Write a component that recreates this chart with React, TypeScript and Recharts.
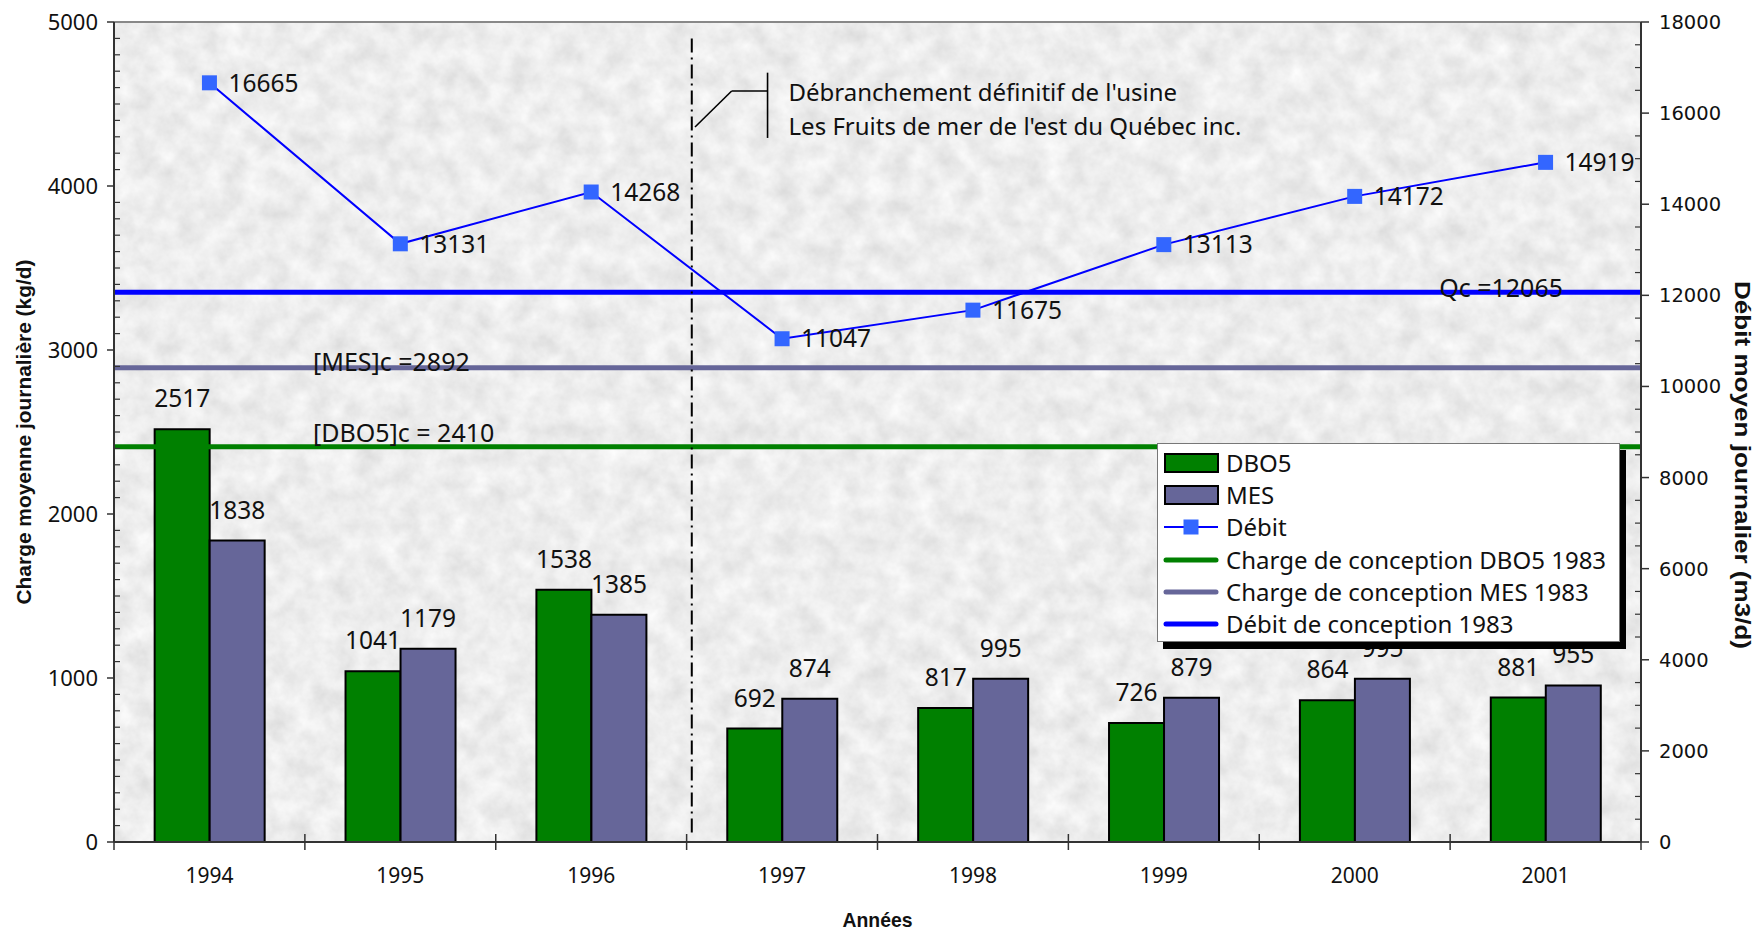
import React from 'react';
import {
  ComposedChart,
  Bar,
  Line,
  XAxis,
  YAxis,
  CartesianGrid,
  ReferenceLine,
  ReferenceDot,
  LabelList,
  Legend,
} from 'recharts';

// ---- Data -------------------------------------------------------------
const years = ['1994', '1995', '1996', '1997', '1998', '1999', '2000', '2001'];
const dbo5 = [2517, 1041, 1538, 692, 817, 726, 864, 881];
const mes = [1838, 1179, 1385, 874, 995, 879, 995, 955];
const debit = [16665, 13131, 14268, 11047, 11675, 13113, 14172, 14919];

// 1983 design values
const dbo5Design = 2410;
const mesDesign = 2892;
const debitDesign = 12065;

// Axis ticks (minor + major)
const leftTicks = Array.from({ length: 51 }, (_, i) => i * 100);
const rightTicks = Array.from({ length: 37 }, (_, i) => i * 500);

// Plant disconnection marker (x in year units, y on the load axis)
const disconnectX = 3.027;
const disconnectSpan = [4900, 50];
const calloutPoints = [
  { x: 3.044, y: 4360 },
  { x: 3.236, y: 4579 },
  { x: 3.424, y: 4579 },
];
const bracketSpan = [4691, 4293];
const noteLines = [
  { text: "Débranchement définitif de l'usine", y: 4573 },
  { text: "Les Fruits de mer de l'est du Québec inc.", y: 4366 },
];

// pos = centre of each year slot on a continuous 0..8 scale
const data = years.map((year, i) => ({ year, pos: i + 0.5, dbo5: dbo5[i], mes: mes[i], debit: debit[i] }));

// ---- Styles -----------------------------------------------------------
const GREEN = '#008000';
const PURPLE = '#666699';
const BLUE = '#0000ff';
const MARKER = '#3366ff';
const AXIS = '#333333';
const FONT = "'Noto Sans', 'Open Sans', sans-serif";
const WIDE_FONT = "'DejaVu Sans', sans-serif";
const TITLE_FONT = "'Liberation Sans', Arial, sans-serif";

const LeftTick = (props: any) => {
  const { x, y, payload } = props;
  const v = payload.value;
  if (v % 1000 === 0) {
    return (
      <g>
        <line x1={x - 7} x2={x} y1={y} y2={y} stroke={AXIS} strokeWidth={1.5} />
        <text x={x - 16} y={y} dy="0.36em" textAnchor="end" fontSize={22} fontFamily={FONT} fill="#111">
          {v}
        </text>
      </g>
    );
  }
  return <line x1={x} x2={x + 6} y1={y} y2={y} stroke={AXIS} strokeWidth={1.2} />;
};

const RightTick = (props: any) => {
  const { x, y, payload } = props;
  const v = payload.value;
  if (v % 2000 === 0) {
    return (
      <g>
        <line x1={x} x2={x + 8} y1={y} y2={y} stroke={AXIS} strokeWidth={1.5} />
        <text x={x + 18} y={y} dy="0.36em" textAnchor="start" fontSize={19.5} fontFamily={WIDE_FONT} fill="#111">
          {v}
        </text>
      </g>
    );
  }
  return <line x1={x - 6} x2={x} y1={y} y2={y} stroke={AXIS} strokeWidth={1.2} />;
};

// Year label at the slot centre, with tick marks on the slot boundaries
const BottomTick = (props: any) => {
  const { x, y, payload, index, visibleTicksCount } = props;
  const half = payload && payload.offset ? payload.offset : 0;
  const last = index === visibleTicksCount - 1;
  return (
    <g>
      <line x1={x - half} x2={x - half} y1={y - 8} y2={y + 8} stroke={AXIS} strokeWidth={1.5} />
      {last && <line x1={x + half} x2={x + half} y1={y - 8} y2={y + 8} stroke={AXIS} strokeWidth={1.5} />}
      <text x={x} y={y + 41} textAnchor="middle" fontSize={21} fontFamily={FONT} fill="#111">
        {payload.value}
      </text>
    </g>
  );
};

const SquareDot = (props: any) => {
  const { cx, cy } = props;
  if (cx == null || cy == null) return null;
  return <rect x={cx - 7.5} y={cy - 7.5} width={15} height={15} fill={MARKER} />;
};

const lineLabel = (text: string, dx: number, dy: number, anchor: 'start' | 'end') => (props: any) => {
  const vb = props.viewBox || {};
  const x = anchor === 'start' ? vb.x + dx : vb.x + vb.width - dx;
  return (
    <text x={x} y={vb.y + dy} textAnchor={anchor} fontSize={25} fontFamily={FONT} fill="#111">
      {text}
    </text>
  );
};

const noteLabel = (text: string) => (props: any) => {
  const vb = props.viewBox || {};
  return (
    <text x={vb.x + 21} y={vb.y} dy="0.36em" textAnchor="start" fontSize={24} fontFamily={FONT} fill="#111">
      {text}
    </text>
  );
};

const legendItems = [
  { label: 'DBO5', kind: 'bar', color: GREEN },
  { label: 'MES', kind: 'bar', color: PURPLE },
  { label: 'Débit', kind: 'marker', color: BLUE },
  { label: 'Charge de conception DBO5 1983', kind: 'line', color: GREEN },
  { label: 'Charge de conception MES 1983', kind: 'line', color: PURPLE },
  { label: 'Débit de conception 1983', kind: 'line', color: BLUE },
];

const LegendBox = () => (
  <div
    style={{
      width: 463,
      maxWidth: 463,
      height: 199,
      boxSizing: 'border-box',
      overflow: 'hidden',
      background: '#ffffff',
      border: '1px solid #777',
      boxShadow: '6px 7px 0 #000',
      paddingTop: 3,
      fontFamily: FONT,
      fontSize: 24,
      color: '#111',
      textAlign: 'left',
    }}
  >
    {legendItems.map((it) => (
      <div key={it.label} style={{ height: 32.2, display: 'flex', alignItems: 'center', whiteSpace: 'nowrap' }}>
        <svg width={61} height={32} style={{ flex: 'none' }}>
          {it.kind === 'bar' && (
            <rect x={7} y={7} width={53} height={18} fill={it.color} stroke="#000" strokeWidth={2} />
          )}
          {it.kind === 'marker' && (
            <g>
              <line x1={6} x2={60} y1={16} y2={16} stroke={it.color} strokeWidth={2} />
              <rect x={25.5} y={8.5} width={15} height={15} fill={MARKER} />
            </g>
          )}
          {it.kind === 'line' && (
            <line x1={8} x2={58} y1={16} y2={16} stroke={it.color} strokeWidth={5} strokeLinecap="round" />
          )}
        </svg>
        <span style={{ marginLeft: 7, lineHeight: '32px' }}>{it.label}</span>
      </div>
    ))}
  </div>
);

export default function App() {
  return (
    <div style={{ position: 'absolute', left: 0, top: 0, width: 1760, height: 930, background: '#fff' }}>
      <svg width={0} height={0} style={{ position: 'absolute' }}>
        <defs>
          <filter id="graniteNoise" x="0" y="0" width="100%" height="100%">
            <feTurbulence type="fractalNoise" baseFrequency="0.045" numOctaves={4} seed={7} />
            <feColorMatrix
              type="matrix"
              values="0.3 0 0 0 0.7  0.3 0 0 0 0.7  0.3 0 0 0 0.7  0 0 0 0 1"
            />
          </filter>
          <pattern id="graniteFill" patternUnits="userSpaceOnUse" x={0} y={0} width={1760} height={930}>
            <rect width={1760} height={930} filter="url(#graniteNoise)" />
          </pattern>
        </defs>
      </svg>
      <ComposedChart
        width={1760}
        height={930}
        data={data}
        margin={{ top: 22, right: 0, bottom: 0, left: 0 }}
        barCategoryGap="21.3%"
        barGap={0}
      >
        <CartesianGrid xAxisId="cat" yAxisId="left" horizontal={false} vertical={false} fill="url(#graniteFill)" />
        <XAxis
          xAxisId="num"
          type="number"
          dataKey="pos"
          domain={[0, 8]}
          allowDataOverflow
          hide
          height={0}
        />
        <XAxis
          xAxisId="cat"
          dataKey="year"
          interval={0}
          height={88}
          tickSize={0}
          tickMargin={0}
          tickLine={false}
          tick={<BottomTick />}
          axisLine={{ stroke: AXIS, strokeWidth: 2 }}
          label={(p: any) => {
            const vb = p.viewBox || {};
            return (
              <text
                x={vb.x + vb.width / 2}
                y={vb.y + vb.height - 3}
                textAnchor="middle"
                fontSize={21}
                fontWeight="bold"
                fontFamily={TITLE_FONT}
                fill="#111"
                textLength={70}
                lengthAdjust="spacingAndGlyphs"
              >
                Années
              </text>
            );
          }}
        />
        <YAxis
          yAxisId="left"
          domain={[0, 5000]}
          ticks={leftTicks}
          interval={0}
          width={114}
          tickSize={0}
          tickMargin={0}
          tickLine={false}
          tick={<LeftTick />}
          axisLine={{ stroke: AXIS, strokeWidth: 2 }}
          allowDataOverflow
          label={(p: any) => {
            const vb = p.viewBox || {};
            const cy = vb.y + vb.height / 2;
            return (
              <text
                transform={`translate(${vb.x + 24}, ${cy}) rotate(-90)`}
                dy="0.36em"
                textAnchor="middle"
                fontSize={20}
                fontWeight="bold"
                fontFamily={TITLE_FONT}
                fill="#111"
                textLength={345}
                lengthAdjust="spacingAndGlyphs"
              >
                Charge moyenne journalière  (kg/d)
              </text>
            );
          }}
        />
        <YAxis
          yAxisId="right"
          orientation="right"
          domain={[0, 18000]}
          ticks={rightTicks}
          interval={0}
          width={119}
          tickSize={0}
          tickMargin={0}
          tickLine={false}
          tick={<RightTick />}
          axisLine={{ stroke: AXIS, strokeWidth: 2 }}
          allowDataOverflow
          label={(p: any) => {
            const vb = p.viewBox || {};
            const cy = vb.y + vb.height / 2 + 33;
            return (
              <text
                transform={`translate(${vb.x + 102}, ${cy}) rotate(90)`}
                dy="0.36em"
                textAnchor="middle"
                fontSize={22}
                fontWeight="bold"
                fontFamily={TITLE_FONT}
                fill="#111"
                textLength={368}
                lengthAdjust="spacingAndGlyphs"
              >
                Débit moyen journalier (m3/d)
              </text>
            );
          }}
        />

        <Bar xAxisId="cat" yAxisId="left" dataKey="dbo5" name="DBO5" fill={GREEN} stroke="#000" strokeWidth={2} isAnimationActive={false}>
          <LabelList dataKey="dbo5" position="top" offset={22} fill="#111" fontSize={24.5} fontFamily={FONT} />
        </Bar>
        <Bar xAxisId="cat" yAxisId="left" dataKey="mes" name="MES" fill={PURPLE} stroke="#000" strokeWidth={2} isAnimationActive={false}>
          <LabelList dataKey="mes" position="top" offset={22} fill="#111" fontSize={24.5} fontFamily={FONT} />
        </Bar>

        {/* plot frame top edge */}
        <ReferenceLine xAxisId="cat" yAxisId="left" y={5000} stroke="#888" strokeWidth={2} />

        {/* 1983 design values */}
        <ReferenceLine
          xAxisId="cat"
          yAxisId="left"
          y={mesDesign}
          stroke={PURPLE}
          strokeWidth={5}
          label={lineLabel('[MES]c =2892', 199, 3.5, 'start')}
        />
        <ReferenceLine
          xAxisId="cat"
          yAxisId="left"
          y={dbo5Design}
          stroke={GREEN}
          strokeWidth={5}
          label={lineLabel('[DBO5]c = 2410', 199, -4.5, 'start')}
        />
        <ReferenceLine
          xAxisId="cat"
          yAxisId="right"
          y={debitDesign}
          stroke={BLUE}
          strokeWidth={5}
          label={lineLabel('Qc =12065', 78, 5, 'end')}
        />

        {/* plant disconnection */}
        <ReferenceLine
          xAxisId="num"
          yAxisId="left"
          segment={[
            { x: disconnectX, y: disconnectSpan[0] },
            { x: disconnectX, y: disconnectSpan[1] },
          ]}
          stroke="#000"
          strokeWidth={2}
          strokeDasharray="14 5 2 5"
        />
        <ReferenceLine
          xAxisId="num"
          yAxisId="left"
          segment={[calloutPoints[0], calloutPoints[1]]}
          stroke="#000"
          strokeWidth={1.6}
        />
        <ReferenceLine
          xAxisId="num"
          yAxisId="left"
          segment={[calloutPoints[1], calloutPoints[2]]}
          stroke="#000"
          strokeWidth={1.6}
        />
        <ReferenceLine
          xAxisId="num"
          yAxisId="left"
          segment={[
            { x: calloutPoints[2].x, y: bracketSpan[0] },
            { x: calloutPoints[2].x, y: bracketSpan[1] },
          ]}
          stroke="#000"
          strokeWidth={1.6}
        />
        {noteLines.map((n) => (
          <ReferenceDot
            key={n.text}
            xAxisId="num"
            yAxisId="left"
            x={calloutPoints[2].x}
            y={n.y}
            r={0}
            fill="none"
            stroke="none"
            label={noteLabel(n.text)}
          />
        ))}

        <Line
          xAxisId="cat"
          yAxisId="right"
          dataKey="debit"
          name="Débit"
          stroke={BLUE}
          strokeWidth={2}
          dot={<SquareDot />}
          activeDot={false}
          isAnimationActive={false}
        >
          <LabelList dataKey="debit" position="right" offset={19} fill="#111" fontSize={24.5} fontFamily={FONT} />
        </Line>

        <Legend
          layout="horizontal"
          verticalAlign="middle"
          align="center"
          content={() => <LegendBox />}
          wrapperStyle={{ left: 1157, top: 443, width: 463, height: 199 }}
        />
      </ComposedChart>
    </div>
  );
}
